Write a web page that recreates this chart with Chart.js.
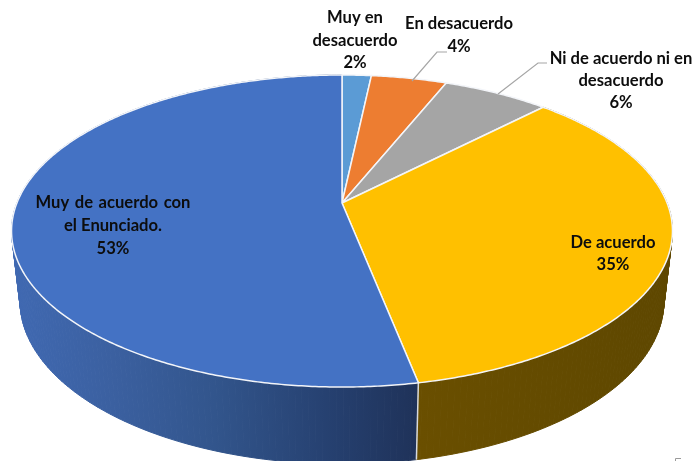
<!DOCTYPE html>
<html>
<head>
<meta charset="utf-8">
<style>
  html, body { margin: 0; padding: 0; background: #fff; }
  canvas { display: block; }
</style>
<script src="https://cdn.jsdelivr.net/npm/chart.js@4/dist/chart.umd.min.js"></script>
</head>
<body>
<canvas id="pie" width="696" height="461"></canvas>
<script>
var categories = ['Muy en desacuerdo', 'En desacuerdo', 'Ni de acuerdo ni en desacuerdo', 'De acuerdo', 'Muy de acuerdo con el Enunciado.'];
var values = [1.7, 4.4, 6.2, 34.6, 53.1];
var sliceColors = ['#5b9bd5', '#ed7d31', '#a5a5a5', '#ffc000', '#4472c4'];
var percentLabels = ['2%', '4%', '6%', '35%', '53%'];
var labelLines = [
    ['Muy en', 'desacuerdo'],
    ['En desacuerdo'],
    ['Ni de acuerdo ni en', 'desacuerdo'],
    ['De acuerdo'],
    ['Muy de acuerdo con', 'el Enunciado.']
];

// label centers, first line y, line height and word spacing
var labelPos = [
    [355, 18, 22.3, 0],
    [459, 24, 23, 0],
    [621, 59, 22, 0],
    [613, 243, 22, 0],
    [113, 203, 23, 1.5]
];
var leaders = [
    [[412, 81], [437, 52], [447, 52]],
    [[498, 94], [538, 63], [547, 63]]
];

// perspective of the top face, the apex sits above the ellipse center
var persp = 0.1795, kx = 325.1, ky = 151;

function project(el, angle) {
    var u = Math.cos(angle), v = -Math.sin(angle), w = 1 + persp * v;
    return [el.x + kx * u / w, el.y - ky * v / w];
}

// lower rim of the cylinder, from a point on the top rim
function dropRim(p) {
    return [342 + (p[0] - 342) * 322 / 330.5, 301 + (p[1] - 231) * 163 / 156];
}

function wallFill(ctx, index) {
    if (index === 4) {
        var g = ctx.createLinearGradient(12, 0, 418, 0);
        g.addColorStop(0, '#4069b2');
        g.addColorStop(0.25, '#3b60a0');
        g.addColorStop(0.5, '#32558c');
        g.addColorStop(0.8, '#253f6e');
        g.addColorStop(1, '#1f3259');
        return g;
    }
    var g2 = ctx.createLinearGradient(418, 0, 672, 0);
    g2.addColorStop(0, '#6a4f00');
    g2.addColorStop(1, '#5e4700');
    return g2;
}

var pie3d = {
    id: 'pie3d',
    beforeDatasetDraw: function (chart) {
        var ctx = chart.ctx, arcs = chart.getDatasetMeta(0).data;
        var step = Math.PI / 180;
        ctx.save();

        // side wall, only the two front slices show
        [4, 3].forEach(function (i) {
            var el = arcs[i], fill = wallFill(ctx, i);
            ctx.fillStyle = fill;
            ctx.strokeStyle = fill;
            ctx.lineWidth = 1;
            for (var a = el.startAngle; a < el.endAngle; a += step) {
                var b = Math.min(a + step, el.endAngle);
                var p0 = project(el, a), p1 = project(el, b);
                var q0 = dropRim(p0), q1 = dropRim(p1);
                ctx.beginPath();
                ctx.moveTo(p0[0], p0[1]);
                ctx.lineTo(p1[0], p1[1]);
                ctx.lineTo(q1[0], q1[1]);
                ctx.lineTo(q0[0], q0[1]);
                ctx.closePath();
                ctx.fill();
                ctx.stroke();
            }
        });

        // seam between the two wall colours
        var seam = project(arcs[4], arcs[4].startAngle), seamEnd = dropRim(seam);
        ctx.strokeStyle = '#d5d9e0';
        ctx.lineWidth = 1.5;
        ctx.beginPath();
        ctx.moveTo(seam[0], seam[1]);
        ctx.lineTo(seamEnd[0], seamEnd[1]);
        ctx.stroke();

        // top face
        arcs.forEach(function (el, i) {
            ctx.beginPath();
            ctx.moveTo(el.x, el.y);
            for (var a = el.startAngle; a < el.endAngle; a += step / 2) {
                var p = project(el, a);
                ctx.lineTo(p[0], p[1]);
            }
            var last = project(el, el.endAngle);
            ctx.lineTo(last[0], last[1]);
            ctx.closePath();
            ctx.fillStyle = sliceColors[i];
            ctx.fill();
            ctx.strokeStyle = '#f3f5f9';
            ctx.lineWidth = 1.5;
            ctx.lineJoin = 'round';
            ctx.stroke();
        });
        ctx.restore();
        return false;
    },
    afterDatasetsDraw: function (chart) {
        var ctx = chart.ctx;
        ctx.save();
        ctx.strokeStyle = '#a6a6a6';
        ctx.lineWidth = 1.2;
        leaders.forEach(function (line) {
            ctx.beginPath();
            line.forEach(function (pt, j) {
                if (j === 0) ctx.moveTo(pt[0], pt[1]);
                else ctx.lineTo(pt[0], pt[1]);
            });
            ctx.stroke();
        });

        // small scan mark in the corner
        ctx.strokeStyle = '#9a9a9a';
        ctx.lineWidth = 1;
        ctx.beginPath();
        ctx.moveTo(681, 458.5);
        ctx.lineTo(675.5, 458.5);
        ctx.lineTo(675.5, 461);
        ctx.stroke();

        ctx.fillStyle = '#0d0d0d';
        ctx.font = 'bold 16.6px Lato';
        ctx.textAlign = 'center';
        ctx.textBaseline = 'middle';
        labelLines.forEach(function (lines, i) {
            var pos = labelPos[i];
            var all = lines.concat(percentLabels[i]);
            all.forEach(function (txt, j) {
                ctx.wordSpacing = (j === 0 ? pos[3] : 0) + 'px';
                ctx.fillText(txt, pos[0], pos[1] + j * pos[2]);
            });
        });
        ctx.restore();
    }
};

var cfg = {
    type: 'pie',
    data: {
        labels: categories,
        datasets: [{
            data: values,
            backgroundColor: sliceColors,
            borderWidth: 0
        }]
    },
    options: {
        responsive: false,
        animation: false,
        layout: { padding: { right: 12, bottom: 55 } },
        plugins: {
            legend: { display: false },
            tooltip: { enabled: false }
        }
    },
    plugins: [pie3d]
};

new Chart(document.getElementById('pie'), cfg);
</script>
</body>
</html>
